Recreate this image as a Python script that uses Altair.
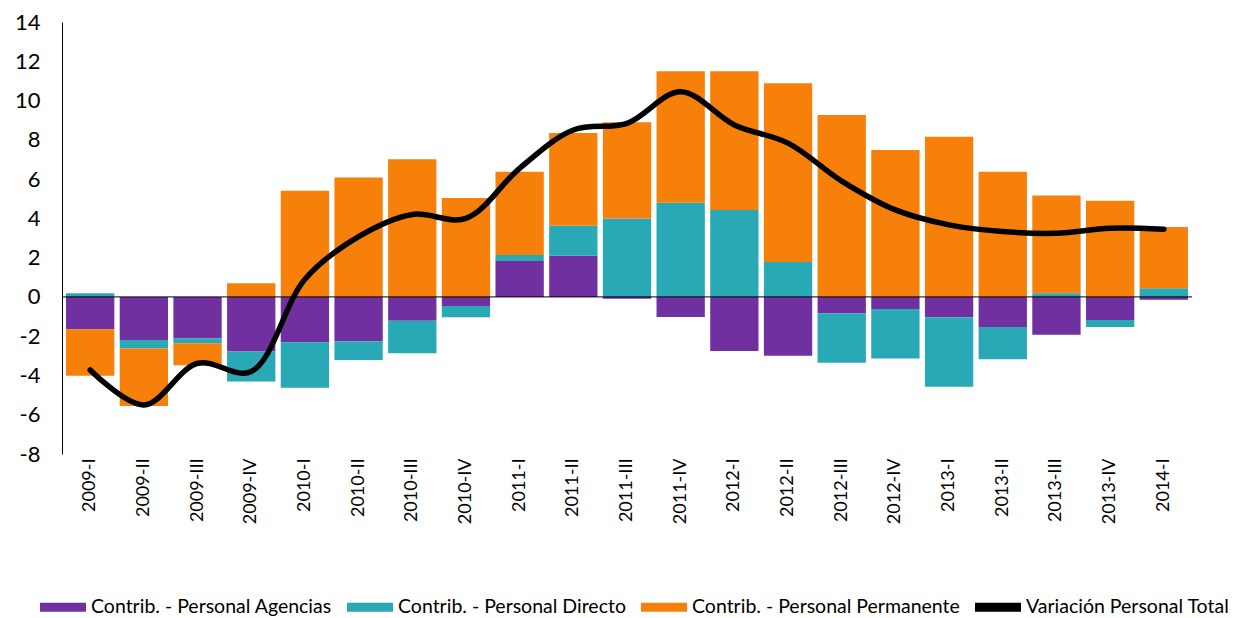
import altair as alt
import pandas as pd

cats = ["2009-I", "2009-II", "2009-III", "2009-IV",
        "2010-I", "2010-II", "2010-III", "2010-IV",
        "2011-I", "2011-II", "2011-III", "2011-IV",
        "2012-I", "2012-II", "2012-III", "2012-IV",
        "2013-I", "2013-II", "2013-III", "2013-IV",
        "2014-I"]

agencias = [-1.65, -2.19, -2.12, -2.78, -2.31, -2.26, -1.22, -0.46, 1.83, 2.09, -0.10,
            -1.02, -2.75, -3.00, -0.85, -0.61, -1.03, -1.53, -1.93, -1.17, -0.15]
directo = [0.18, -0.44, -0.24, -1.53, -2.31, -0.95, -1.65, -0.57, 0.31, 1.54, 3.99,
           4.79, 4.43, 1.78, -2.50, -2.53, -3.55, -1.64, 0.19, -0.36, 0.44]
permanente = [-2.37, -2.92, -1.12, 0.70, 5.41, 6.08, 7.01, 5.04, 4.24, 4.72, 4.90,
              6.70, 7.06, 9.10, 9.27, 7.48, 8.16, 6.38, 4.97, 4.90, 3.12]
total = [-3.72, -5.50, -3.38, -3.80, 0.90, 3.07, 4.20, 4.00, 6.55, 8.50, 8.84,
         10.45, 8.76, 7.83, 5.90, 4.43, 3.67, 3.33, 3.24, 3.50, 3.45]
y_ticks = [-8, -6, -4, -2, 0, 2, 4, 6, 8, 10, 12, 14]

series_names = ["Contrib. - Personal Agencias", "Contrib. - Personal Directo",
                "Contrib. - Personal Permanente", "Variación Personal Total"]
series_colors = ["#7030A0", "#29A8B6", "#F7800A", "#000000"]

rows = []
for i, c in enumerate(cats):
    for k, vals in enumerate([agencias, directo, permanente]):
        rows.append({"cat": c, "serie": series_names[k], "valor": vals[i], "orden": k})
bars_df = pd.DataFrame(rows)
line_df = pd.DataFrame({"cat": cats, "valor": total})
zero_df = pd.DataFrame({"y": [0]})

FONT = "Lato"

x_axis = alt.Axis(title=None, labelAngle=270, labelAlign="right",
                  labelBaseline="middle", labelFontSize=18,
                  labelColor="#000000", labelPadding=4, ticks=False,
                  domain=False, labelFont=FONT)
x_scale = alt.Scale(paddingInner=0.1, paddingOuter=0.075)

y_axis = alt.Axis(title=None, values=y_ticks, grid=False,
                  ticks=False, labelFontSize=22, labelColor="#000000",
                  labelPadding=22, domainColor="#000000", domainWidth=1,
                  labelFont=FONT, labelOverlap=False,
                  labelExpr="datum.value + ''")
y_scale = alt.Scale(domain=[-8, 14], nice=False, zero=False)

bars = alt.Chart(bars_df).mark_bar().encode(
    x=alt.X("cat:N", sort=cats, scale=x_scale, axis=x_axis),
    y=alt.Y("valor:Q", stack="zero", scale=y_scale, axis=y_axis),
    color=alt.Color("serie:N",
                    scale=alt.Scale(domain=series_names, range=series_colors),
                    legend=alt.Legend(title=None, orient="none", direction="horizontal",
                                      legendX=-22, legendY=562,
                                      symbolType="M-1,-0.2L1,-0.2L1,0.2L-1,0.2Z",
                                      symbolSize=2116, symbolStrokeWidth=0,
                                      labelFontSize=19.5, labelFont=FONT,
                                      labelColor="#000000", labelLimit=400,
                                      columnPadding=15, labelOffset=5)),
    order=alt.Order("orden:Q", sort="ascending"),
)

zero = alt.Chart(zero_df).mark_rule(color="#000000", strokeWidth=1).encode(
    y=alt.Y("y:Q", scale=y_scale, axis=y_axis)
)

line = alt.Chart(line_df).mark_line(color="#000000", strokeWidth=5.5,
                                    interpolate="catmull-rom", strokeCap="round").encode(
    x=alt.X("cat:N", sort=cats, scale=x_scale, axis=x_axis),
    y=alt.Y("valor:Q", scale=y_scale, axis=y_axis),
)

chart = alt.layer(bars, zero, line).properties(
    width=1130, height=432,
    autosize=alt.AutoSizeParams(type="none"),
    padding={"left": 54, "top": 14, "right": 40, "bottom": 164},
).configure(font=FONT).configure_view(stroke=None, strokeWidth=0).configure_axis(
    labelOverlap=False
)

chart.save("out.html", embed_options={"renderer": "svg", "actions": False})
